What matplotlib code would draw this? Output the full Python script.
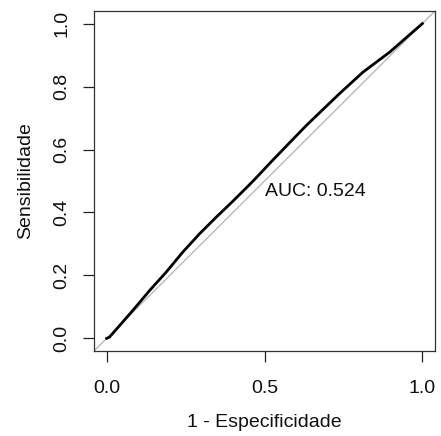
import matplotlib
matplotlib.use("Agg")
import matplotlib.pyplot as plt

# curva ROC (1 - especificidade, sensibilidade)
fpr = [0.0, 0.009, 0.083, 0.136, 0.189, 0.241, 0.294, 0.347, 0.400, 0.463,
       0.526, 0.632, 0.737, 0.811, 0.896, 1.0]
sens = [0.0, 0.004, 0.089, 0.152, 0.211, 0.274, 0.332, 0.385, 0.436, 0.499,
        0.566, 0.676, 0.777, 0.845, 0.909, 1.0]
auc = 0.524
xticks = [0.0, 0.5, 1.0]
yticks = [0.0, 0.2, 0.4, 0.6, 0.8, 1.0]

plt.rcParams['font.family'] = ['Liberation Sans', 'DejaVu Sans']
plt.rcParams['font.size'] = 14

fig = plt.figure(figsize=(4.41, 4.36), dpi=100)
ax = fig.add_axes([0.2132, 0.1950, 0.7732, 0.7798])

ax.plot([-0.04, 1.04], [-0.04, 1.04], color='#b4b4b4', lw=0.9, zorder=1)
ax.plot(fpr, sens, color='black', lw=2.0, zorder=2)
ax.text(0.5, 0.495, 'AUC: %.3f' % auc, ha='left', va='top', color='#111111')

ax.set_xlim(-0.04, 1.04)
ax.set_ylim(-0.04, 1.04)
ax.set_xticks(xticks)
ax.set_xticklabels(['%.1f' % v for v in xticks])
ax.set_yticks(yticks)
ax.set_yticklabels(['%.1f' % v for v in yticks], rotation=90, va='center')
ax.tick_params(axis='both', length=8, width=0.9, color='#222222', labelcolor='#111111')
ax.tick_params(axis='x', pad=13)
ax.tick_params(axis='y', pad=9)
for s in ax.spines.values():
    s.set_color('#333333')
    s.set_linewidth(0.9)

ax.set_xlabel('1 - Especificidade', labelpad=12, color='#111111')
ax.set_ylabel('Sensibilidade', labelpad=14, color='#111111')

fig.savefig('out.png', dpi=100)
